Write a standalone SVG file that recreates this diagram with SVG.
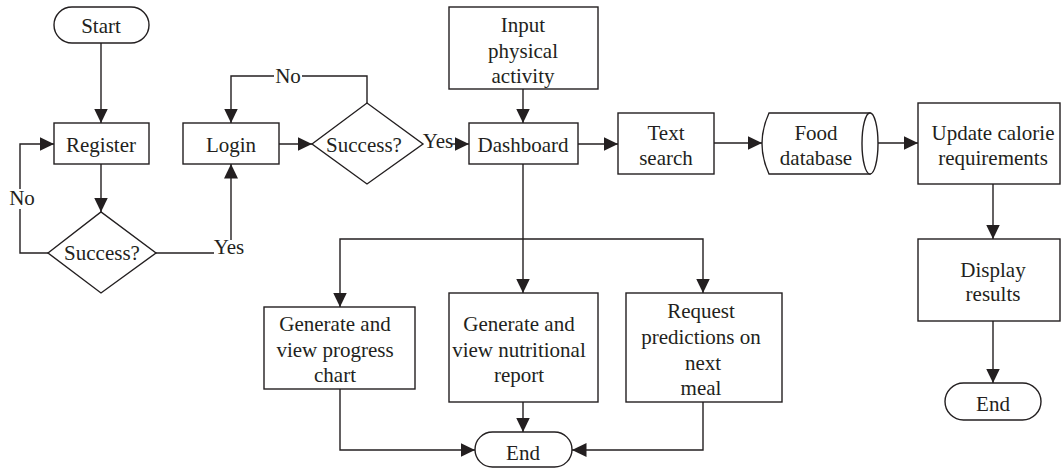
<svg xmlns="http://www.w3.org/2000/svg" width="1061" height="468" viewBox="0 0 1061 468">
<style>
.s{fill:#fff;stroke:#231f20;stroke-width:1.4}
.c{fill:none;stroke:#231f20;stroke-width:1.4}
text{font-family:'Liberation Serif','DejaVu Serif',serif;font-size:21px;fill:#231f20;text-anchor:middle}
</style>
<defs>
<marker id="a" markerUnits="userSpaceOnUse" markerWidth="16" markerHeight="16" refX="14.5" refY="7" orient="auto">
<path d="M0,0 L14.5,7 L0,14 z" fill="#231f20"/>
</marker>
</defs>
<rect width="1061" height="468" fill="#fff"/>
<g id="connectors">
<path class="c" d="M101,43 V123" marker-end="url(#a)"/>
<path class="c" d="M101,164 V212" marker-end="url(#a)"/>
<path class="c" d="M48,253 H20 V209"/>
<path class="c" d="M20,189 V144 H54" marker-end="url(#a)"/>
<path class="c" d="M156,253 H214"/>
<path class="c" d="M231,240 V164" marker-end="url(#a)"/>
<path class="c" d="M279,144 H312" marker-end="url(#a)"/>
<path class="c" d="M367,103 V76 H302"/>
<path class="c" d="M274,76 H231 V123" marker-end="url(#a)"/>
<path class="c" d="M452,144 H469" marker-end="url(#a)"/>
<path class="c" d="M523,89 V123" marker-end="url(#a)"/>
<path class="c" d="M578,144 H618" marker-end="url(#a)"/>
<path class="c" d="M714,143 H762" marker-end="url(#a)"/>
<path class="c" d="M878,143 H918" marker-end="url(#a)"/>
<path class="c" d="M993,184 V239" marker-end="url(#a)"/>
<path class="c" d="M993,321 V383" marker-end="url(#a)"/>
<path class="c" d="M523,164 V293" marker-end="url(#a)"/>
<path class="c" d="M523,239 H340 V307" marker-end="url(#a)"/>
<path class="c" d="M523,239 H703 V293" marker-end="url(#a)"/>
<path class="c" d="M340,389 V450 H475" marker-end="url(#a)"/>
<path class="c" d="M523,402 V432" marker-end="url(#a)"/>
<path class="c" d="M703,402 V450 H572" marker-end="url(#a)"/>
<text x="22" y="205">No</text>
<text x="229" y="254">Yes</text>
<text x="288" y="83">No</text>
<text x="438" y="148">Yes</text>
</g>
<g id="start"><rect class="s" x="54" y="7" width="95" height="36" rx="18"/><text x="101" y="33">Start</text></g>
<g id="register"><rect class="s" x="54" y="123" width="95" height="41"/><text x="101" y="152">Register</text></g>
<g id="success1"><path class="s" d="M48,253 L101,212 L156,253 L101,293 Z"/><text x="102" y="260">Success?</text></g>
<g id="login"><rect class="s" x="183" y="123" width="96" height="41"/><text x="231" y="152">Login</text></g>
<g id="success2"><path class="s" d="M312,144 L367,103 L423,144 L367,184 Z"/><text x="364" y="152">Success?</text></g>
<g id="input"><rect class="s" x="449" y="7" width="149" height="82"/><text x="523" y="32">Input</text><text x="523" y="58">physical</text><text x="523" y="83">activity</text></g>
<g id="dashboard"><rect class="s" x="469" y="123" width="109" height="41"/><text x="523" y="152">Dashboard</text></g>
<g id="textsearch"><rect class="s" x="618" y="113" width="96" height="61"/><text x="666" y="140">Text</text><text x="666" y="165">search</text></g>
<g id="fooddb"><path class="s" d="M769,113 H870 V174 H769 Q755,143.5 769,113 Z"/><ellipse class="s" cx="870" cy="143.5" rx="8" ry="30.5"/><text x="816" y="140">Food</text><text x="816" y="165">database</text></g>
<g id="update"><rect class="s" x="918" y="103" width="142" height="81"/><text x="993" y="140">Update calorie</text><text x="993" y="165">requirements</text></g>
<g id="display"><rect class="s" x="918" y="239" width="142" height="82"/><text x="993" y="277">Display</text><text x="993" y="301">results</text></g>
<g id="end1"><rect class="s" x="945" y="383" width="96" height="37" rx="18.5"/><text x="993" y="411">End</text></g>
<g id="progress"><rect class="s" x="264" y="307" width="151" height="82"/><text x="335" y="331">Generate and</text><text x="335" y="357">view progress</text><text x="335" y="382">chart</text></g>
<g id="nutrition"><rect class="s" x="449" y="293" width="149" height="109"/><text x="519" y="331">Generate and</text><text x="519" y="357">view nutritional</text><text x="519" y="382">report</text></g>
<g id="request"><rect class="s" x="626" y="293" width="156" height="109"/><text x="701" y="318">Request</text><text x="701" y="344">predictions on</text><text x="703" y="370">next</text><text x="701" y="395">meal</text></g>
<g id="end2"><rect class="s" x="475" y="432" width="97" height="35" rx="17.5"/><text x="523" y="460">End</text></g>
</svg>
